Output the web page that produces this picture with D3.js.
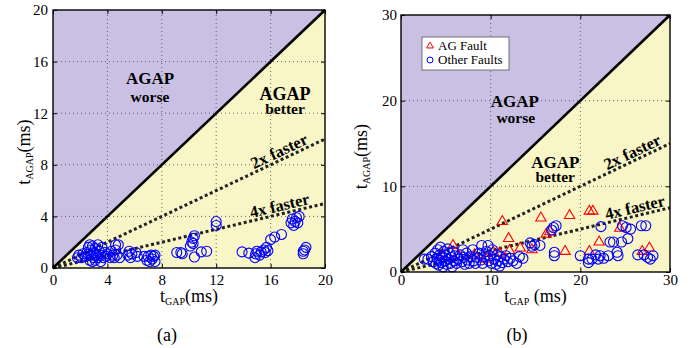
<!DOCTYPE html>
<html><head><meta charset="utf-8">
<script src="https://cdn.jsdelivr.net/npm/d3@7"></script>
<style>
body{margin:0;background:#fff}
svg{display:block}
svg text{font-family:"Liberation Serif","Times New Roman",Times,"DejaVu Serif",serif !important;fill:#000}
</style></head>
<body><svg id="c" width="699" height="348" font-family="Liberation Serif, Times New Roman, DejaVu Serif, serif"></svg>
<script>
// ---------------- DATA ----------------
const ticksA = [0, 4, 8, 12, 16, 20];
const ticksB = [0, 10, 20, 30];
const ratios = [2, 4];
const ratioLabels = ["2x faster", "4x faster"];
const legendLabels = ["AG Fault", "Other Faults"];
const captions = ["(a)", "(b)"];

// panel (a): other faults [tGAP, tAGAP]
const otherA = [
 [1.8,0.8],[1.9,1.0],[2.1,0.8],[2.2,1.1],[2.4,0.9],[2.5,1.2],[2.6,1.6],[2.7,1.8],[2.7,0.6],[2.8,1.0],
 [2.8,1.4],[2.9,0.5],[2.9,1.7],[3.0,0.8],[3.0,1.2],[3.1,1.5],[3.1,0.6],[3.2,1.0],[3.3,1.8],[3.3,0.8],
 [3.4,1.3],[3.5,0.5],[3.5,1.0],[3.6,1.6],[3.7,0.8],[3.8,1.2],[3.9,0.9],[4.0,1.1],[4.2,0.8],[4.3,1.3],
 [4.4,1.0],[4.5,0.8],[4.6,1.4],[4.6,1.8],[4.7,1.0],[4.8,1.8],[4.9,0.8],
 [5.5,1.0],[5.6,1.3],[5.7,0.8],[5.8,1.1],[6.1,1.2],[6.2,0.9],
 [6.7,0.9],[6.9,0.6],[7.0,0.9],[7.1,0.5],[7.2,1.0],[7.3,0.7],[7.4,0.9],[7.5,0.5],[7.5,1.0],
 [9.1,1.2],[9.4,1.2],[9.5,1.1],
 [10.1,1.7],[10.2,2.0],[10.3,1.9],[10.3,2.3],[10.4,2.5],
 [10.4,0.85],[10.9,1.25],[11.3,1.3],
 [12.0,3.3],[12.0,3.6],
 [13.9,1.25],[14.4,1.15],[14.85,0.8],[14.9,1.1],[15.0,1.3],[15.2,1.0],[15.3,1.25],[15.5,1.4],[15.6,1.2],[15.7,1.6],[15.8,1.35],
 [16.0,2.2],[16.3,2.4],[16.8,2.6],
 [17.5,3.5],[17.6,3.8],[17.7,3.3],[17.8,3.6],[17.9,3.9],[18.0,3.5],[18.1,4.0],
 [18.4,1.1],[18.5,1.4],[18.6,1.6],[18.4,1.3]
];

// panel (b): AG faults and other faults [tGAP, tAGAP]
const agB = [
 [5.8,3.1],[10.3,2.3],[11.0,2.2],[11.3,5.9],[12.0,3.9],[12.1,2.5],[13.3,2.8],[14.6,2.6],[15.6,6.3],
 [16.2,4.4],[16.6,4.7],[18.3,2.4],[18.8,6.6],[21.0,7.1],[21.4,7.1],[21.0,2.4],[22.1,3.5],[24.4,5.1],
 [26.9,2.4],[27.7,2.8],[4.5,2.0],[6.5,1.8],[8.2,2.0],[9.5,1.5]
];
const otherB = [
 [2.6,1.5],[3.0,1.5],[3.4,1.8],[3.6,1.2],[3.8,2.2],[3.9,1.0],[4.0,1.6],[4.1,2.6],[4.2,0.8],[4.3,1.4],
 [4.3,2.0],[4.4,2.9],[4.5,1.1],[4.6,1.8],[4.7,0.6],[4.8,2.4],[4.9,1.3],[5.0,1.9],[5.1,0.9],[5.2,2.7],
 [5.3,1.5],[5.4,2.2],[5.5,1.0],[5.6,1.7],[5.7,0.6],[5.8,2.4],[5.9,1.3],[6.0,1.9],[6.2,1.0],[6.4,1.5],
 [6.6,2.0],[6.8,1.2],[6.9,2.6],[7.0,1.7],[7.1,0.9],[7.3,2.2],[7.4,1.4],[7.6,1.0],[7.8,1.8],[8.0,2.6],
 [8.1,1.3],[8.3,1.0],[8.5,1.7],[8.7,2.2],[8.9,1.4],[9.0,3.1],[9.1,1.0],[9.3,1.8],[9.5,2.4],[9.7,3.1],
 [9.8,1.3],[9.9,1.9],[10.1,1.0],[10.2,2.6],[10.4,1.5],[10.6,0.9],[10.7,2.0],[10.8,1.3],[11.0,0.7],[11.1,1.8],
 [11.3,1.1],[11.5,1.5],[11.7,1.9],[11.9,1.2],[12.2,1.6],[12.5,1.3],[12.9,1.0],[13.2,1.8],[13.6,1.6],
 [14.4,3.4],[14.6,3.0],[14.9,3.2],[15.5,3.1],[16.8,4.9],[17.0,5.2],[17.3,5.4],[17.1,2.3],[17.1,1.9],
 [20.0,1.9],[20.9,1.5],[20.9,1.1],[21.3,1.5],[21.7,2.0],[22.0,1.5],[22.2,1.9],[22.3,5.3],[22.6,1.6],
 [23.1,1.9],[23.3,3.5],[23.7,3.5],[24.1,2.3],[24.2,1.9],[24.6,3.5],[24.7,5.4],[25.1,5.2],[25.3,3.9],
 [25.6,5.0],[26.4,2.0],[26.8,5.4],[27.1,2.0],[27.3,5.4],[27.5,1.7],[27.8,1.5],[28.1,1.9]
];

// ---------------- DRAW ----------------
const svg = d3.select("#c");
const FONT = "Liberation Serif, Times New Roman, DejaVu Serif, serif";
const PURPLE = "#C9C0E4", YELLOW = "#F8F5C6", BLUE = "#0000FF", RED = "#FF0000";

function subLabel(sel, main, sub, rest, size, subSize) {
  sel.append("tspan").text(main).attr("font-size", size);
  sel.append("tspan").text(sub).attr("font-size", subSize).attr("dy", 3);
  sel.append("tspan").text(rest).attr("font-size", size).attr("dy", -3);
}

function panel(cfg) {
  const M = cfg.max;
  const x = d3.scaleLinear().domain([0, M]).range([cfg.x0, cfg.x1]);
  const y = d3.scaleLinear().domain([0, M]).range([cfg.y0, cfg.y1]);
  const g = svg.append("g").attr("font-family", FONT);
  const line = d3.line().x(d => x(d[0])).y(d => y(d[1]));

  // regions
  g.append("path").attr("d", line([[0,0],[M,0],[M,M]]) + "Z").attr("fill", YELLOW);
  g.append("path").attr("d", line([[0,0],[0,M],[M,M]]) + "Z").attr("fill", PURPLE);

  // grid
  const inner = cfg.ticks.filter(t => t > 0 && t < M);
  g.selectAll(".gv").data(inner).enter().append("line")
    .attr("x1", d => x(d)).attr("x2", d => x(d)).attr("y1", y(0)).attr("y2", y(M))
    .attr("stroke", "#444").attr("stroke-width", 0.8).attr("stroke-dasharray", "1,3");
  g.selectAll(".gh").data(inner).enter().append("line")
    .attr("y1", d => y(d)).attr("y2", d => y(d)).attr("x1", x(0)).attr("x2", x(M))
    .attr("stroke", "#444").attr("stroke-width", 0.8).attr("stroke-dasharray", "1,3");

  // ratio lines
  ratios.forEach(r => {
    g.append("path").attr("d", line([[0,0],[M, M / r]]))
      .attr("stroke", "#222").attr("stroke-width", 3).attr("stroke-dasharray", "3,2.6").attr("fill", "none");
  });
  // equal line
  g.append("path").attr("d", line([[0,0],[M,M]]))
    .attr("stroke", "#000").attr("stroke-width", 2.6).attr("fill", "none");

  // axes
  const ax = (gen, tr, labels, pad) => {
    const a = g.append("g").attr("transform", tr)
      .call(gen.tickValues(cfg.ticks).tickSize(-4).tickPadding(pad)
        .tickFormat(labels ? d3.format("d") : () => ""));
    a.attr("font-family", FONT);
    a.select(".domain").remove();
    a.selectAll("line").attr("stroke", "#000");
    a.selectAll("text").attr("font-size", 15).attr("font-family", FONT).attr("fill", "#000");
    return a;
  };
  ax(d3.axisBottom(x), `translate(0,${y(0)})`, true, cfg.xPad);
  ax(d3.axisTop(x), `translate(0,${y(M)})`, false, 0);
  ax(d3.axisLeft(y), `translate(${x(0)},0)`, true, cfg.yPad);
  ax(d3.axisRight(y), `translate(${x(M)},0)`, false, 0);

  // annotations
  const ann = cfg.ann;
  const t = (txt, p, size) => g.append("text").attr("x", x(p[0])).attr("y", y(p[1]))
    .attr("text-anchor", "middle").attr("font-weight", "bold").attr("font-size", size).text(txt);
  t("AGAP", ann.worse[0], ann.sz[0]); t("worse", ann.worse[1], ann.sz[1]);
  t("AGAP", ann.better[0], ann.sz[2]); t("better", ann.better[1], ann.sz[3]);

  ratios.forEach((r, i) => {
    const ang = Math.atan2(y(0) - y(M / r), x(M) - x(0)) * 180 / Math.PI;
    const xp = ann.ratioX[i];
    g.append("text")
      .attr("transform", `translate(${x(xp)},${y(xp / r)}) rotate(${-ang})`)
      .attr("dy", -3).attr("text-anchor", "middle").attr("font-weight", "bold")
      .attr("font-size", 16.5).text(ratioLabels[i]);
  });

  // markers
  if (cfg.ag) {
    g.selectAll(".tri").data(cfg.ag).enter().append("path")
      .attr("d", d3.symbol(d3.symbolTriangle, 46)())
      .attr("transform", d => `translate(${x(d[0])},${y(d[1])})`)
      .attr("fill", "none").attr("stroke", RED).attr("stroke-width", 1.1);
  }
  g.selectAll(".cir").data(cfg.other).enter().append("circle")
    .attr("cx", d => x(d[0])).attr("cy", d => y(d[1])).attr("r", 5)
    .attr("fill", "none").attr("stroke", BLUE).attr("stroke-width", 1.1);

  // frame
  g.append("rect").attr("x", x(0)).attr("y", y(M)).attr("width", x(M) - x(0)).attr("height", y(0) - y(M))
    .attr("fill", "none").attr("stroke", "#000").attr("stroke-width", 1.4);

  // axis labels
  const xl = g.append("text").attr("x", (x(0) + x(M)) / 2).attr("y", 301.5).attr("text-anchor", "middle");
  subLabel(xl, "t", "GAP", cfg.xRest, 18, 10);
  const yl = g.append("text").attr("transform", `translate(${cfg.yLabX},${(y(0) + y(M)) / 2 + 13}) rotate(-90)`)
    .attr("text-anchor", "middle");
  subLabel(yl, "t", "AGAP", "(ms)", 18, 10);

  // caption
  g.append("text").attr("x", cfg.capX).attr("y", 341).attr("text-anchor", "middle")
    .attr("font-size", 18).text(cfg.caption);

  // legend
  if (cfg.legend) {
    const L = g.append("g").attr("transform", `translate(${x(0) + 21},${y(M) + 22})`);
    L.append("rect").attr("width", 87).attr("height", 33).attr("fill", "#fff")
      .attr("stroke", "#555").attr("stroke-width", 0.8);
    L.append("path").attr("d", d3.symbol(d3.symbolTriangle, 20)())
      .attr("transform", "translate(8,9)").attr("fill", "none").attr("stroke", RED).attr("stroke-width", 1);
    L.append("circle").attr("cx", 8).attr("cy", 23).attr("r", 3)
      .attr("fill", "none").attr("stroke", BLUE).attr("stroke-width", 1);
    legendLabels.forEach((s, i) => L.append("text").attr("x", 16).attr("y", 13 + i * 14)
      .attr("font-size", 13).text(s));
  }
}

panel({
  max: 20, x0: 53, x1: 325, y0: 268, y1: 10, ticks: ticksA, xPad: 6, yPad: 5,
  other: otherA, ag: null, legend: false, caption: captions[0], capX: 167, yLabX: 30, xRest: "(ms)",
  ann: { worse: [[7.13, 14.3], [7.13, 12.85]], better: [[17.06, 13.05], [17.06, 11.95]],
         sz: [17, 15.5, 18, 15.5], ratioX: [16.9, 16.8] }
});
panel({
  max: 30, x0: 401, x1: 670, y0: 272, y1: 15, ticks: ticksB, xPad: 2.5, yPad: 4,
  other: otherB, ag: agB, legend: true, caption: captions[1], capX: 517, yLabX: 366.5, xRest: " (ms)",
  ann: { worse: [[12.7, 19.3], [12.8, 17.35]], better: [[17.2, 12.15], [17.2, 10.45]],
         sz: [17, 15.5, 17, 15.5], ratioX: [26.2, 26.3] }
});
</script></body></html>
